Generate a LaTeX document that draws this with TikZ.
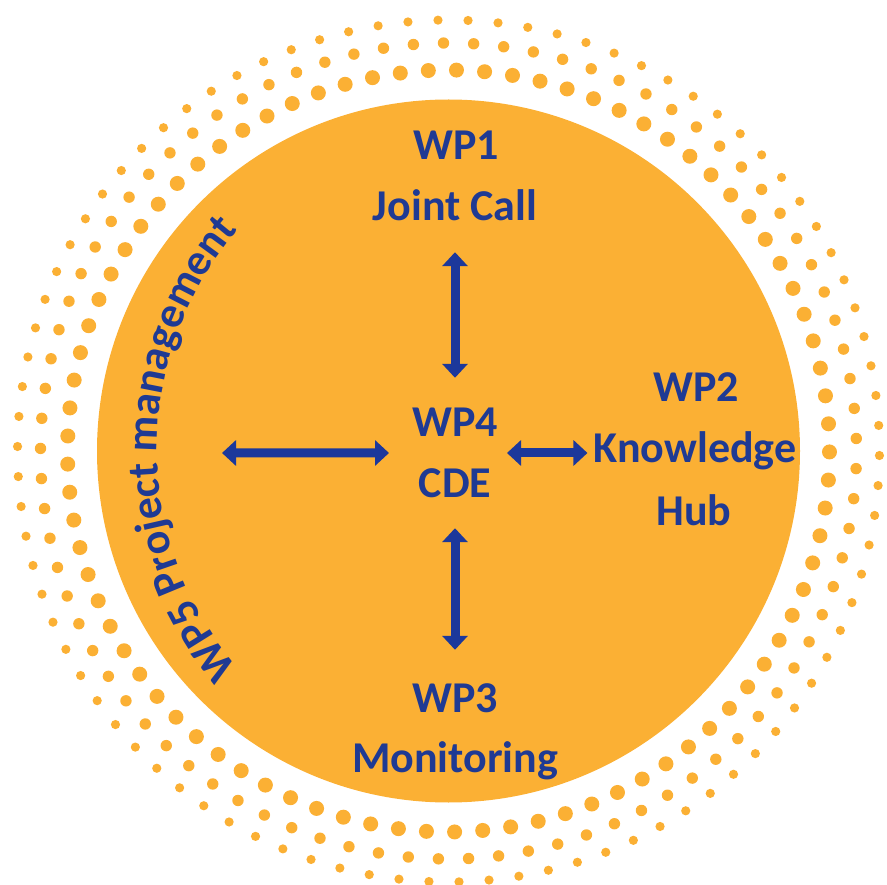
\documentclass[tikz,border=0pt]{standalone}
\usepackage{fontspec}
\setmainfont{Carlito}
\usetikzlibrary{arrows.meta,decorations.text,calc}
\definecolor{sun}{RGB}{251,176,52}
\definecolor{wpblue}{RGB}{31,58,147}
\definecolor{arrblue}{RGB}{28,56,155}
\begin{document}
\begin{tikzpicture}[x=1pt,y=-1pt,
  wplabel/.style={font=\bfseries\fontsize{44}{50}\selectfont, text=wpblue, inner sep=0pt,
    anchor=base, text height=28pt, text depth=0pt},
  biarrow/.style={draw=arrblue, line width=9pt,
    {Triangle[width=25pt,length=14pt]}-{Triangle[width=25pt,length=14pt]}},
  sundot/.style={fill=sun}]
\useasboundingbox (0,0) rectangle (887,885);
\coordinate (C) at (448.5,451);
\fill[sun] (C) circle[radius=351.5];
% dotted halo
\foreach \k in {0,...,84} {\fill[sundot] ($(C)+({271.2+\k*4.23529}:381)$) circle[radius=7.5];}
\foreach \k in {0,...,84} {\fill[sundot] ($(C)+({269.3+\k*4.23529}:408)$) circle[radius=5.7];}
\foreach \k in {0,...,89} {\fill[sundot] ($(C)+({268.6+\k*4}:431)$) circle[radius=4.6];}
% labels
\node[wplabel] (wp1) at (456,160) {WP1};
\node[wplabel] (wp1t) at (455,221) {Joint Call};
\node[wplabel] (wp4) at (455,437) {WP4};
\node[wplabel] (wp4t) at (455,497) {CDE};
\node[wplabel] (wp2) at (696,402) {WP2};
\node[wplabel] (wp2t) at (695,463) {Knowledge};
\node[wplabel] (wp2u) at (694,525) {Hub};
\node[wplabel] (wp3) at (455,712) {WP3};
\node[wplabel] (wp3t) at (455,772) {Monitoring};
% curved WP5 label
\coordinate (C5) at (493,449);
\path[decorate, decoration={text along path, text align=center,
  text={|\bfseries\fontsize{44}{44}\selectfont\color{wpblue}|WP5 Project management}}]
  ($(C5)+(130:336)$) arc[start angle=130, end angle=230, radius=336];
\coordinate (wp5) at (222,453);
% arrows
\coordinate (mid) at ($(wp4.south)!0.5!(wp4t.north)$);
\draw[biarrow, shorten <=31pt, shorten >=31pt] (wp1t.south) -- (wp4.north);
\draw[biarrow, shorten <=31pt, shorten >=34pt] (wp4t.south) -- (wp3.north);
\draw[biarrow, shorten >=23pt] (wp5) -- (mid -| wp4.west);
\draw[biarrow, shorten <=9pt, shorten >=6pt] (mid -| wp4.east) -- (mid -| wp2t.west);
\end{tikzpicture}
\end{document}
